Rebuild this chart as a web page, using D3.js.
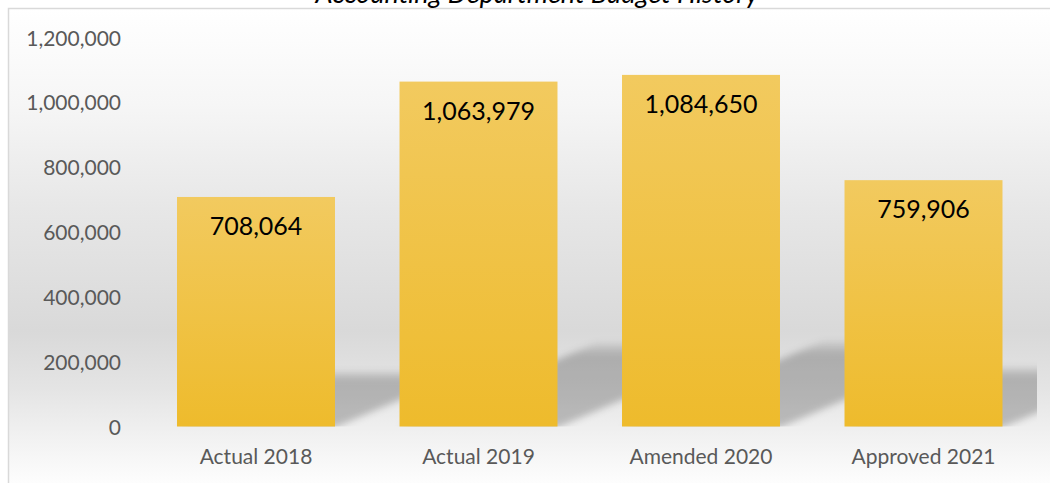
<!DOCTYPE html>
<html>
<head>
<meta charset="utf-8">
<script src="https://cdn.jsdelivr.net/npm/d3@7"></script>
<style>
  html, body { margin: 0; padding: 0; background: #ffffff; }
  svg { display: block; }
</style>
</head>
<body>
<svg id="chart" width="1050" height="483"></svg>
<script>
// Budget history by fiscal stage
const categories = ["Actual 2018", "Actual 2019", "Amended 2020", "Approved 2021"];
const budgetValues = [708064, 1063979, 1084650, 759906];
const yTicks = [0, 200000, 400000, 600000, 800000, 1000000, 1200000];
const chartTitle = "Accounting Department Budget History";

const W = 1050, H = 483;
const FONT = "Lato, 'Open Sans', 'Liberation Sans', sans-serif";
const svg = d3.select("#chart");
const defs = svg.append("defs");

// Chart area background: white fading to grey and back to white near the bottom
const bg = defs.append("linearGradient")
  .attr("id", "bgGrad").attr("gradientUnits", "userSpaceOnUse")
  .attr("x1", 0).attr("y1", 9).attr("x2", 0).attr("y2", H);
[[0, "#ffffff"], [0.2, "#f6f6f6"], [0.42, "#e7e7e7"], [0.68, "#d9d9d9"], [0.8, "#e4e4e4"], [0.9, "#f1f1f1"], [1, "#fdfdfd"]]
  .forEach(([o, c]) => bg.append("stop").attr("offset", o).attr("stop-color", c));

// Bar fill: lighter gold at the top, deeper gold at the base
const barGrad = defs.append("linearGradient")
  .attr("id", "barGrad").attr("x1", 0).attr("y1", 0).attr("x2", 0).attr("y2", 1);
barGrad.append("stop").attr("offset", 0).attr("stop-color", "#f2ca5f");
barGrad.append("stop").attr("offset", 1).attr("stop-color", "#eebb2c");

// Perspective shadow: darker near the floor, fading upward
const shGrad = defs.append("linearGradient")
  .attr("id", "shGrad").attr("x1", 0).attr("y1", 1).attr("x2", 0).attr("y2", 0);
shGrad.append("stop").attr("offset", 0).attr("stop-color", "#000").attr("stop-opacity", 0.22);
shGrad.append("stop").attr("offset", 0.85).attr("stop-color", "#000").attr("stop-opacity", 0.22);
shGrad.append("stop").attr("offset", 1).attr("stop-color", "#000").attr("stop-opacity", 0.06);

defs.append("filter").attr("id", "shBlur")
  .attr("x", "-20%").attr("y", "-40%").attr("width", "140%").attr("height", "180%")
  .append("feGaussianBlur").attr("stdDeviation", 3.5);

// Scales
const x = d3.scaleBand()
  .domain(categories)
  .range([144.75, 1034.75])
  .paddingInner(0.29)
  .paddingOuter(0.145);

const y = d3.scaleLinear()
  .domain([0, 1200000])
  .range([426.5, 37.5]);

// Frame
svg.append("rect")
  .attr("x", 8.5).attr("y", 8.5)
  .attr("width", W + 10).attr("height", H + 10)
  .attr("fill", "url(#bgGrad)")
  .attr("stroke", "#d9d9d9").attr("stroke-width", 1.5);

// Title (sits above the frame edge)
svg.append("text")
  .attr("x", 537).attr("y", 3)
  .attr("text-anchor", "middle")
  .attr("font-family", FONT).attr("font-style", "italic")
  .attr("font-size", 27).attr("fill", "#000")
  .text(chartTitle);

// Shadows, clipped to the plot area
defs.append("clipPath").attr("id", "plotClip")
  .append("rect").attr("x", 144).attr("y", 20).attr("width", 1037 - 144).attr("height", 426.5 - 20);

const shadowLayer = svg.append("g").attr("clip-path", "url(#plotClip)");
shadowLayer.selectAll("path.shadow")
  .data(categories.map((c, i) => ({ c, v: budgetValues[i] })))
  .join("path")
  .attr("class", "shadow")
  .attr("fill", "url(#shGrad)")
  .attr("filter", "url(#shBlur)")
  .attr("d", d => {
    const x0 = x(d.c), x1 = x0 + x.bandwidth();
    const base = y(0) + 1;
    const sh = (y(0) - y(d.v)) * 0.245;
    const dx = sh * 2.33;
    return `M${x0},${base} L${x1},${base} L${x1 + dx},${base - sh} L${x0 + dx},${base - sh} Z`;
  });

// Y axis tick labels
const yAxis = d3.axisLeft(y)
  .tickValues(yTicks)
  .tickSize(0)
  .tickPadding(0)
  .tickFormat(d3.format(","));
const yg = svg.append("g").attr("transform", "translate(121,0)").call(yAxis);
yg.select(".domain").remove();
yg.selectAll("text")
  .attr("font-family", FONT).attr("font-size", 21)
  .attr("fill", "#595959").attr("dy", "0.36em");

// X axis category labels
const xAxis = d3.axisBottom(x).tickSize(0).tickPadding(0);
const xg = svg.append("g").attr("transform", "translate(0,464)").call(xAxis);
xg.select(".domain").remove();
xg.selectAll("text")
  .attr("font-family", FONT).attr("font-size", 21)
  .attr("fill", "#595959").attr("dy", 0);

// Bars
svg.append("g").selectAll("rect.bar")
  .data(categories.map((c, i) => ({ c, v: budgetValues[i] })))
  .join("rect")
  .attr("class", "bar")
  .attr("x", d => x(d.c))
  .attr("y", d => y(d.v))
  .attr("width", x.bandwidth())
  .attr("height", d => y(0) - y(d.v))
  .attr("fill", "url(#barGrad)");

// Value labels inside the top of each bar
svg.append("g").selectAll("text.val")
  .data(categories.map((c, i) => ({ c, v: budgetValues[i] })))
  .join("text")
  .attr("class", "val")
  .attr("x", d => x(d.c) + x.bandwidth() / 2)
  .attr("y", d => y(d.v) + 38)
  .attr("text-anchor", "middle")
  .attr("font-family", FONT).attr("font-size", 25)
  .attr("fill", "#000")
  .text(d => d3.format(",")(d.v));
</script>
</body>
</html>
